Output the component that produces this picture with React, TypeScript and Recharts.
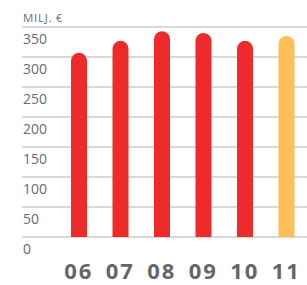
import React from 'react';
import { BarChart, Bar, XAxis, YAxis, CartesianGrid, Cell } from 'recharts';

const years = ['06', '07', '08', '09', '10', '11'];
const revenue = [307, 327, 343, 340, 327, 335];
const yTicks = [0, 50, 100, 150, 200, 250, 300, 350];
const unitLabel = 'MILJ. €';

const RED = '#ee2b2a';
const YELLOW = '#fdbf55';

const data = years.map((year, i) => ({ year, value: revenue[i] }));

const YTick = (props: any) => {
  const { y, payload } = props;
  return (
    <text x={23} y={y + 16.5} fill="#6b6b6b" fontSize={14} fontFamily="'Open Sans', sans-serif" textAnchor="start">
      {payload.value}
    </text>
  );
};

const XTick = (props: any) => {
  const { x, payload } = props;
  return (
    <text x={x} y={279} fill="#666666" fontSize={22} fontWeight={700} letterSpacing={2}
      fontFamily="'Open Sans', sans-serif" textAnchor="middle">
      {payload.value}
    </text>
  );
};

export default function App() {
  return (
    <div style={{ position: 'absolute', left: 0, top: 0, width: 307, height: 285, background: '#fff' }}>
      <div style={{
        position: 'absolute', left: 23, top: 10, fontSize: 11.5, lineHeight: '16px', color: '#6b6b6b',
        fontFamily: "'Open Sans', sans-serif", letterSpacing: 0.7,
      }}>
        {unitLabel}
      </div>
      <BarChart width={307} height={285} data={data} margin={{ top: 27, right: 0, left: 0, bottom: 0 }}>
        <CartesianGrid vertical={false} stroke="#cccccc" strokeWidth={1.5} />
        <XAxis dataKey="year" height={48} axisLine={false} tickLine={false} tick={<XTick />}
          padding={{ left: 36, right: 0 }} interval={0} />
        <YAxis width={22} domain={[0, 350]} ticks={yTicks} axisLine={false} tickLine={false}
          tick={<YTick />} interval={0} />
        <Bar dataKey="value" barSize={16} radius={[8, 8, 0, 0]} isAnimationActive={false}>
          {data.map((d, i) => (
            <Cell key={d.year} fill={i === data.length - 1 ? YELLOW : RED} />
          ))}
        </Bar>
      </BarChart>
    </div>
  );
}
